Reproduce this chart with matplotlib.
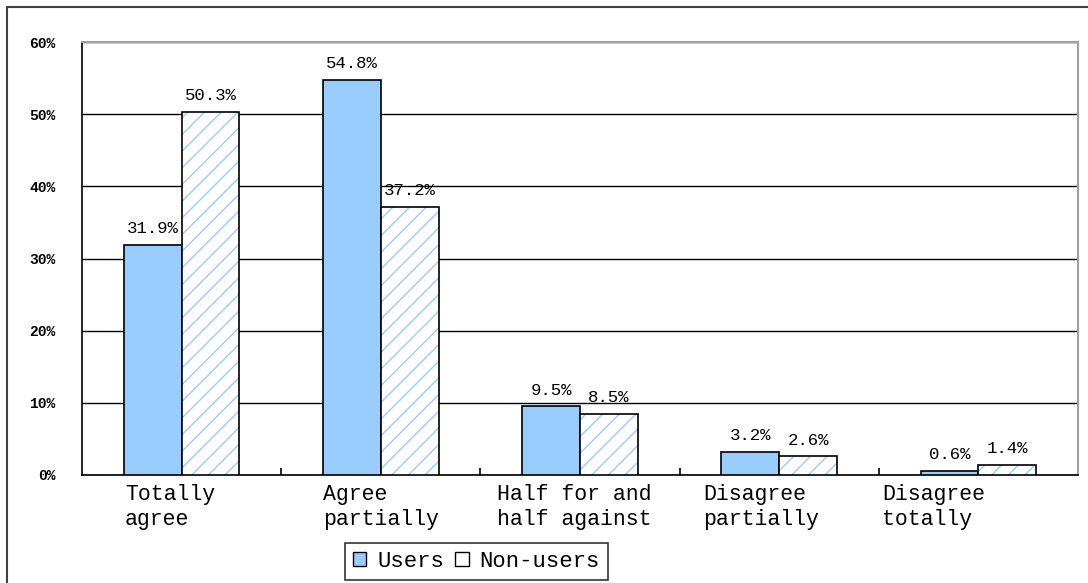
import numpy as np
import matplotlib.pyplot as plt
from matplotlib.patches import Patch, Rectangle
from matplotlib.ticker import FuncFormatter

categories = ["Totally\nagree", "Agree\npartially", "Half for and\nhalf against",
              "Disagree\npartially", "Disagree\ntotally"]
users = [31.9, 54.8, 9.5, 3.2, 0.6]
non_users = [50.3, 37.2, 8.5, 2.6, 1.4]
series_names = ["Users", "Non-users"]

BLUE = "#99CCFF"
MONO = ["Liberation Mono", "DejaVu Sans Mono"]
# left edge of each category label, relative to the category centre
label_offsets = [-0.284, -0.29, -0.417, -0.38, -0.484]

fig = plt.figure(figsize=(10.88, 5.83), dpi=100)
ax = fig.add_axes([82 / 1088, 108 / 583, 996 / 1088, 433 / 583])

x = np.arange(len(categories))
w = 0.29

ax.bar(x - w / 2, users, w, color=BLUE, edgecolor="black", linewidth=1.2, zorder=3)
# hatched bars: hatch layer in blue, then black outline on top
ax.bar(x + w / 2, non_users, w, color="white", edgecolor=BLUE, hatch="//",
       linewidth=0, zorder=3)
ax.bar(x + w / 2, non_users, w, fill=False, edgecolor="black", linewidth=1.2, zorder=4)

for xi, v in zip(x - w / 2, users):
    ax.text(xi, v + 1.2, f"{v:.1f}%", ha="center", va="bottom", fontsize=12.5,
            family=MONO)
for xi, v in zip(x + w / 2, non_users):
    ax.text(xi, v + 1.2, f"{v:.1f}%", ha="center", va="bottom", fontsize=12.5,
            family=MONO)

ax.set_xlim(-0.5, len(categories) - 0.5)
ax.set_ylim(0, 60)
ax.set_yticks(range(0, 61, 10))
ax.yaxis.set_major_formatter(FuncFormatter(lambda v, p: f"{int(v)}%"))
ax.tick_params(axis="y", length=0, pad=19, labelsize=10.5)
for lab in ax.get_yticklabels():
    lab.set_fontweight("bold")
    lab.set_family(MONO)
ax.grid(axis="y", color="black", linewidth=1, zorder=0)

ax.set_xticks([])
ax.set_xticks(np.arange(len(categories) - 1) + 0.5, minor=True)
ax.tick_params(axis="x", which="minor", direction="in", length=5, width=1.2)

for xi, lab, off in zip(x, categories, label_offsets):
    ax.text(xi + off, -1.3, lab, ha="left", va="top", fontsize=15.5, family=MONO,
            linespacing=1.2)

ax.spines["left"].set_color("black")
ax.spines["bottom"].set_color("black")
ax.spines["left"].set_linewidth(1.2)
ax.spines["bottom"].set_linewidth(1.2)
ax.spines["top"].set_color("#a0a0a0")
ax.spines["right"].set_color("#a0a0a0")
ax.spines["top"].set_linewidth(1.5)
ax.spines["right"].set_linewidth(1.5)

handles = [Patch(facecolor=BLUE, edgecolor="black"),
           Patch(facecolor="white", edgecolor="black")]
leg = fig.legend(handles, series_names, loc="lower left",
                 bbox_to_anchor=(345 / 1088, 3 / 583), ncol=2,
                 prop={"family": MONO, "size": 16}, frameon=True, fancybox=False,
                 handlelength=0.6, handleheight=0.6, handletextpad=0.5,
                 columnspacing=0.5, borderpad=0.35, borderaxespad=0)
leg.get_frame().set_edgecolor("black")
leg.get_frame().set_linewidth(1.2)

# outer chart border
fig.patches.append(Rectangle((7 / 1088, -0.05), 1.1, (583 - 7) / 583 + 0.05,
                             transform=fig.transFigure, fill=False,
                             edgecolor="#404040", linewidth=1.5))

fig.savefig("out.png", dpi=100)
